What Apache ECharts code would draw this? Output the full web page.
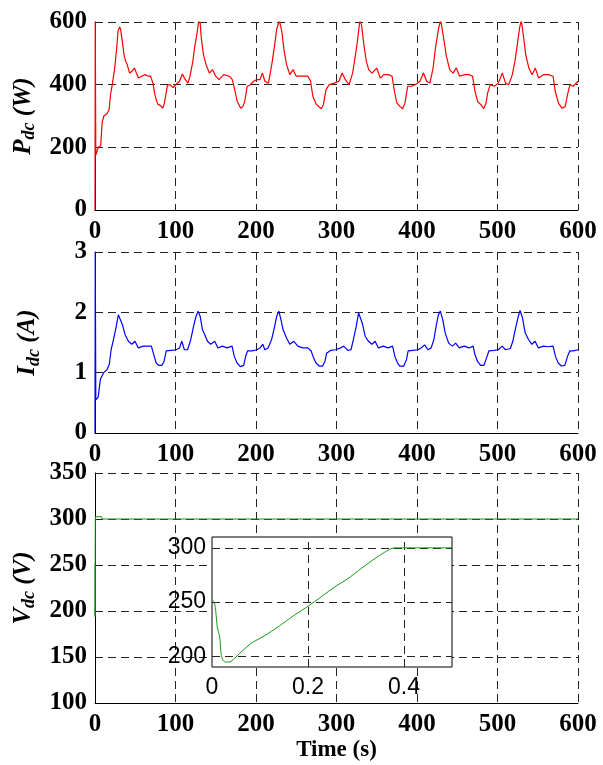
<!DOCTYPE html>
<html><head><meta charset="utf-8">
<script src="https://cdn.jsdelivr.net/npm/echarts@6/dist/echarts.min.js"></script>
<style>html,body{margin:0;padding:0;background:#fff}#c{width:603px;height:765px}</style>
</head><body><div id="c"></div>
<script>
const xTicks = [0,100,200,300,400,500,600];
const pdcData = [[0,0],[0.3,610],[1,175],[3,178],[4,200],[7,205],[9,282],[11,300],[13,305],[15,308],[17.5,320],[19.5,373],[21.5,400],[24.5,453],[27,518],[28.6,571],[30.6,584],[31.8,577],[33.9,539],[36,496],[38,475],[40,464],[43,437],[46,443],[49,453],[51.4,437],[54,421],[58,427],[62,432],[66.5,427],[69,427],[72,405],[74,373],[76,352],[78,338],[81,334],[84,325],[86,338],[88,368],[90,398],[93,400],[97,391],[101,402],[105,411],[108.6,434],[111,421],[115.5,405],[118,427],[121.6,475],[123.7,518],[126.5,560],[129,605],[130.6,598],[132,550],[134.7,496],[138,464],[142,437],[146,448],[150,427],[154,416],[160,432],[166.5,427],[170.6,416],[173.5,384],[176.7,346],[181,325],[183.7,330],[186,346],[189,395],[193,400],[197,411],[201,416],[205,416],[208,437],[211,411],[215.5,405],[219.6,464],[223,523],[225.7,577],[229,605],[232,571],[235,507],[238,464],[242,432],[246,448],[250,427],[256,427],[264.5,427],[267.8,411],[270.6,363],[274.7,338],[281,323],[283.7,336],[287,384],[291,400],[297,405],[303,411],[307,437],[311,416],[315.6,400],[320,437],[323,486],[326,539],[329,605],[331,592],[334,528],[337,475],[340,448],[344,437],[350,453],[354.5,421],[358.6,432],[364.7,432],[369,427],[372,379],[375,341],[379,330],[382,323],[385,341],[388.5,395],[393.4,395],[397.5,400],[403.7,411],[408,437],[412,411],[416,405],[420,453],[423,518],[427,582],[429.5,605],[432.4,560],[436.5,491],[440.6,448],[444.7,437],[448.8,453],[453,427],[459,432],[465,432],[469,427],[472,379],[475.4,346],[479.5,336],[482.8,323],[485.7,341],[487.7,373],[491,400],[496,395],[501,405],[506,437],[510,405],[514,400],[518.4,432],[521.7,475],[524.6,528],[527.5,582],[529.5,605],[532,560],[535,496],[539,453],[543,432],[547,453],[551,421],[557,432],[563.5,432],[569,427],[571.7,379],[575.8,341],[580,325],[584,330],[587,368],[590,400],[594,395],[600,411]];
const idcData = [[0,0],[0.3,3],[1,0.55],[3.9,0.59],[6.7,0.89],[10.8,1.0],[14.9,1.05],[17.8,1.14],[20,1.38],[23,1.55],[26,1.74],[29,1.96],[31.3,1.93],[34,1.80],[37.4,1.63],[41.5,1.52],[45.6,1.47],[49.7,1.52],[53.8,1.41],[60,1.44],[66,1.44],[70,1.44],[73,1.30],[76,1.16],[79.5,1.12],[83,1.12],[85.7,1.18],[88.5,1.36],[94.7,1.37],[100.8,1.38],[105,1.41],[107.8,1.52],[111,1.38],[115,1.38],[119,1.55],[122.5,1.77],[125,1.91],[128,2.02],[130.7,1.93],[133.5,1.71],[136.4,1.63],[139.7,1.52],[143.8,1.47],[148.7,1.52],[152.8,1.41],[158,1.44],[164,1.41],[170.3,1.44],[173,1.27],[176.5,1.16],[180.6,1.10],[184.7,1.12],[187.5,1.29],[189.6,1.36],[195,1.36],[201,1.38],[205,1.41],[208.4,1.47],[211,1.38],[215,1.41],[219.4,1.55],[222.7,1.74],[225.6,1.93],[228.4,2.02],[231,1.88],[233.7,1.71],[237.8,1.58],[242,1.47],[247,1.52],[252,1.44],[258,1.41],[264.4,1.41],[268.5,1.36],[271.4,1.25],[274.6,1.16],[278.7,1.11],[282.8,1.11],[285.7,1.19],[287.7,1.32],[293,1.37],[299,1.38],[305,1.41],[309,1.44],[314,1.37],[318,1.38],[321,1.55],[324.6,1.77],[327.5,1.99],[329.5,2.02],[332,1.82],[335.7,1.60],[339.8,1.52],[343.9,1.47],[348,1.52],[352,1.41],[358,1.44],[364,1.41],[369.7,1.44],[372.5,1.27],[375.8,1.16],[378.7,1.11],[383.6,1.11],[387,1.22],[389,1.36],[395,1.37],[401,1.38],[405,1.41],[409.4,1.46],[413.5,1.38],[417.6,1.41],[421,1.55],[423.8,1.77],[426.6,1.96],[429,2.02],[432,1.88],[435,1.66],[439.3,1.49],[444,1.44],[448,1.49],[452.5,1.41],[458.6,1.44],[464.8,1.41],[469.7,1.44],[472,1.30],[475,1.19],[479,1.12],[483,1.12],[486.5,1.25],[489.3,1.36],[495.5,1.37],[501,1.38],[505.7,1.44],[510,1.38],[516,1.40],[519,1.52],[522,1.71],[525.4,1.91],[528,2.03],[531,1.91],[534.4,1.66],[538.5,1.55],[542.6,1.47],[546.7,1.52],[550.8,1.41],[557,1.44],[563,1.43],[569,1.44],[572,1.27],[575.4,1.16],[579.5,1.11],[583.6,1.12],[587,1.27],[589.8,1.36],[594,1.36],[600,1.38]];
const vdcData = [[0,252],[0.03,194],[0.37,300],[1,302.5],[8,302.5],[9,300],[600,300]];
const insetData = [[0,252],[0.004,250],[0.007,245],[0.011,227],[0.016,218],[0.019,202],[0.023,196],[0.028,194.6],[0.037,194.6],[0.047,198],[0.061,204],[0.082,212],[0.11,219],[0.1375,227],[0.172,238],[0.2,246],[0.228,255],[0.256,264],[0.283,271.5],[0.311,281],[0.339,290],[0.36,296],[0.379,300],[0.5,300]];
const insetYGrid = [200,250,300];
const insetXGrid = [0.2,0.4];

const serif = 'Liberation Serif';
const dash = {color:'#222', width:1, type:[8,5]};
function mainX(gi){
  return {type:'value', gridIndex:gi, min:0, max:600, interval:100,
    axisLine:{show:true, onZero:false, lineStyle:{color:'#000', width:1}},
    axisTick:{show:false},
    axisLabel:{color:'#000', fontFamily:serif, fontWeight:'bold', fontSize:25, margin:9},
    splitLine:{show:true, lineStyle:dash}};
}
function mainY(gi, min, max, interval, sym, unit){
  return {type:'value', gridIndex:gi, min:min, max:max, interval:interval,
    axisLine:{show:true, onZero:false, lineStyle:{color:'#000', width:1}},
    axisTick:{show:false},
    axisLabel:{color:'#000', fontFamily:serif, fontWeight:'bold', fontSize:25, margin:8},
    splitLine:{show:true, lineStyle:dash},
    name:'{m|'+sym+'}{s|dc}{m| ('+unit+')}', nameLocation:'middle', nameGap:52,
    nameTextStyle:{color:'#000', fontFamily:serif, fontWeight:'bold', fontStyle:'italic', fontSize:24,
      rich:{m:{fontFamily:serif, fontWeight:'bold', fontStyle:'italic', fontSize:25, color:'#000', lineHeight:30, verticalAlign:'middle'},
            s:{fontFamily:serif, fontWeight:'bold', fontStyle:'italic', fontSize:18, color:'#000', lineHeight:30, verticalAlign:'bottom'}}}};
}
const chart = echarts.init(document.getElementById('c'));
chart.setOption({
  animation:false,
  backgroundColor:'#fff',
  grid:[
    {left:95, width:483, top:22, height:188},
    {left:95, width:483, top:252, height:181},
    {left:95, width:483, top:473, height:230},
    {left:212, width:240, top:537, height:130, show:true, backgroundColor:'#fff', borderColor:'#000', borderWidth:1, z:5}
  ],
  xAxis:[
    mainX(0), mainX(1),
    Object.assign(mainX(2), {name:'Time (s)', nameLocation:'middle', nameGap:36,
      nameTextStyle:{color:'#000', fontFamily:serif, fontWeight:'bold', fontSize:23}}),
    {type:'value', gridIndex:3, min:0, max:0.5, interval:0.1, z:6,
      axisLine:{show:false}, axisTick:{show:false}, splitLine:{show:false},
      axisLabel:{color:'#000', fontFamily:'Liberation Sans', fontSize:23, margin:9,
        formatter:function(v){const k=Math.round(v*10); return (k%2===0 && k<5)? (k===0?'0':(k/10).toFixed(1)) : '';}}}
  ],
  yAxis:[
    mainY(0, 0, 600, 200, 'P', 'W'),
    mainY(1, 0, 3, 1, 'I', 'A'),
    mainY(2, 100, 350, 50, 'V', 'V'),
    {type:'value', gridIndex:3, min:190, max:310, interval:10, z:6,
      axisLine:{show:false}, axisTick:{show:false}, splitLine:{show:false},
      axisLabel:{color:'#000', fontFamily:'Liberation Sans', fontSize:23, margin:6,
        formatter:function(v){return insetYGrid.indexOf(Math.round(v))>=0 ? String(Math.round(v)) : '';}}}
  ],
  series:[
    {type:'line', xAxisIndex:0, yAxisIndex:0, data:pdcData, showSymbol:false, lineStyle:{color:'#ff0000', width:1.2}, z:3},
    {type:'line', xAxisIndex:1, yAxisIndex:1, data:idcData, showSymbol:false, lineStyle:{color:'#0000ff', width:1.2}, z:3},
    {type:'line', xAxisIndex:2, yAxisIndex:2, data:vdcData, showSymbol:false, lineStyle:{color:'#119911', width:1}, z:3},
    {type:'line', xAxisIndex:3, yAxisIndex:3, data:insetData, smooth:0.2, showSymbol:false, lineStyle:{color:'#119911', width:1}, z:8,
      markLine:{silent:true, symbol:['none','none'], label:{show:false}, lineStyle:dash, z:7,
        data: insetYGrid.map(v=>({yAxis:v})).concat(insetXGrid.map(v=>({xAxis:v})))}}
  ]
});
</script></body></html>
